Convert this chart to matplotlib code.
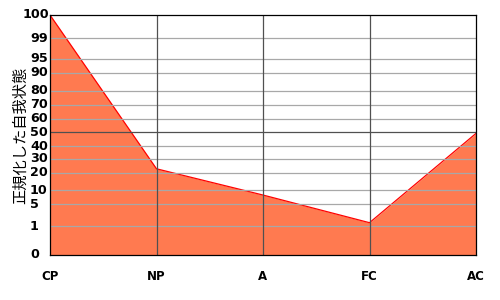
import matplotlib
matplotlib.use("Agg")
import matplotlib.pyplot as plt
import numpy as np
from matplotlib.transforms import blended_transform_factory

# data
categories = ["CP", "NP", "A", "FC", "AC"]
scores = [100, 23, 8.2, 1.6, 49]

# the y axis is a non-linear "normalized" scale
tick_values = [0, 1, 5, 10, 20, 30, 40, 50, 60, 70, 80, 90, 95, 99, 100]
tick_labels = [str(v) for v in tick_values]
scale_pos = [0, 29, 51, 65, 82, 96, 109, 123, 136, 150, 164, 182, 196, 217, 240]


def fwd(v):
    return np.interp(v, tick_values, scale_pos)


def inv(p):
    return np.interp(p, scale_pos, tick_values)


fig = plt.figure(figsize=(5, 3), dpi=100)
ax = fig.add_axes([0.1, 0.15, 0.852, 0.80])
ax.set_yscale("function", functions=(fwd, inv))

x = np.arange(len(categories))
ax.fill_between(x, 0, scores, color="#FF7A50", lw=0, zorder=1)
ax.plot(x, scores, color="red", lw=0.9, zorder=2)

# grid lines over the fill
for v in tick_values[1:-1]:
    ax.axhline(v, color="#505050" if v == 50 else "#A8A8A8", lw=0.9, zorder=3)
for xi in x[1:-1]:
    ax.axvline(xi, color="#505050", lw=0.9, zorder=3)

ax.set_xlim(0, len(categories) - 1)
ax.set_ylim(0, 100)
ax.set_xticks(x)
ax.set_xticklabels(categories, fontweight="bold", fontsize=8.5)
ax.tick_params(axis="x", length=0, pad=11)
ax.set_yticks([])
ax.minorticks_off()

for s in ax.spines.values():
    s.set_linewidth(0.9)
    s.set_color("black")
    s.set_zorder(4)

# y tick labels, left-aligned like the original
trans = blended_transform_factory(fig.transFigure, ax.transData)
for v, lab in zip(tick_values, tick_labels):
    xpos = 0.046 if v == 100 else 0.06
    ax.text(xpos, v, lab, transform=trans, ha="left", va="center",
            fontsize=9.2, fontweight="bold", clip_on=False)

fig.text(0.04, 0.55, "正規化した自我状態", rotation=90, ha="center", va="center",
         fontsize=11, family=["Noto Sans CJK JP", "DejaVu Sans"])

fig.savefig("out.png", dpi=100)
